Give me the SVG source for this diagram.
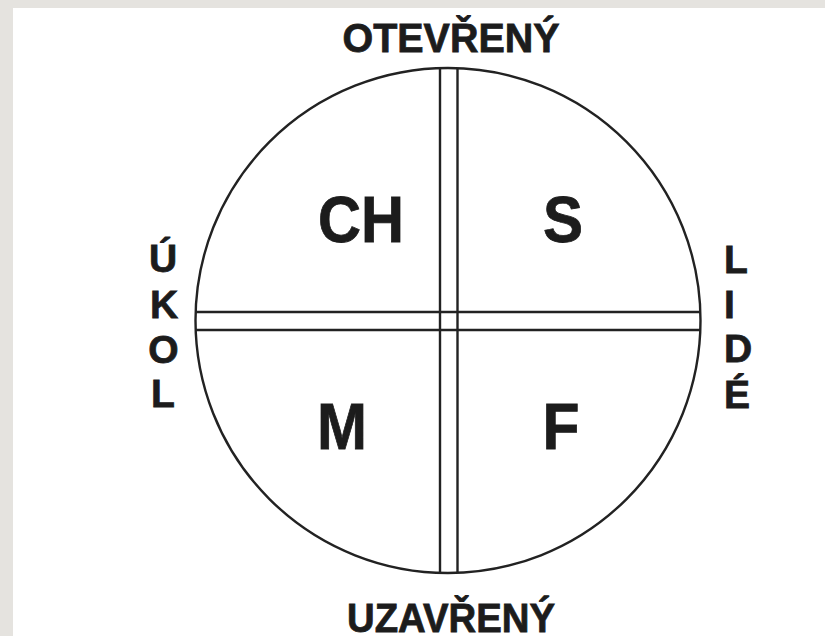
<svg xmlns="http://www.w3.org/2000/svg" width="825" height="636" viewBox="0 0 825 636">
<style>
.t{font-family:"Liberation Sans",Arial,sans-serif;font-weight:bold;fill:#1c1c1c;stroke:#1c1c1c;stroke-width:0.8}
.big{font-size:64px;text-anchor:middle}
.lab{font-size:41px;text-anchor:middle}
.side{font-size:39px}
.ln{stroke:#222;stroke-width:2.4;fill:none}
</style>
<rect x="0" y="0" width="825" height="636" fill="#e5e3df"/>
<rect x="13" y="8" width="812" height="628" fill="#ffffff"/>
<g id="connectors">
<circle class="ln" cx="448" cy="320.5" r="252.5" stroke-width="2.8"/>
<line class="ln" x1="440" y1="68" x2="440" y2="573"/>
<line class="ln" x1="457.5" y1="68" x2="457.5" y2="573"/>
<line class="ln" x1="196" y1="312" x2="700" y2="312"/>
<line class="ln" x1="196" y1="330" x2="700" y2="330"/>
</g>
<g id="otevreny"><text class="t lab" x="451" y="52" textLength="217" lengthAdjust="spacingAndGlyphs">OTEVŘENÝ</text></g>
<g id="uzavreny"><text class="t lab" x="451" y="632" textLength="208" lengthAdjust="spacingAndGlyphs">UZAVŘENÝ</text></g>
<g id="ukol" class="t side" text-anchor="middle">
<text x="163" y="272">Ú</text>
<text x="164" y="318">K</text>
<text x="163.5" y="363">O</text>
<text x="163" y="407">L</text>
</g>
<g id="lide" class="t side">
<text x="724" y="273">L</text>
<text x="724" y="318">I</text>
<text x="724" y="362">D</text>
<text x="724" y="408">É</text>
</g>
<g id="CH"><text class="t big" x="361" y="242" textLength="86" lengthAdjust="spacingAndGlyphs">CH</text></g>
<g id="S"><text class="t big" x="563" y="242" textLength="40" lengthAdjust="spacingAndGlyphs">S</text></g>
<g id="M"><text class="t big" x="342" y="449" textLength="50" lengthAdjust="spacingAndGlyphs">M</text></g>
<g id="F"><text class="t big" x="561" y="449" textLength="37" lengthAdjust="spacingAndGlyphs">F</text></g>
</svg>
